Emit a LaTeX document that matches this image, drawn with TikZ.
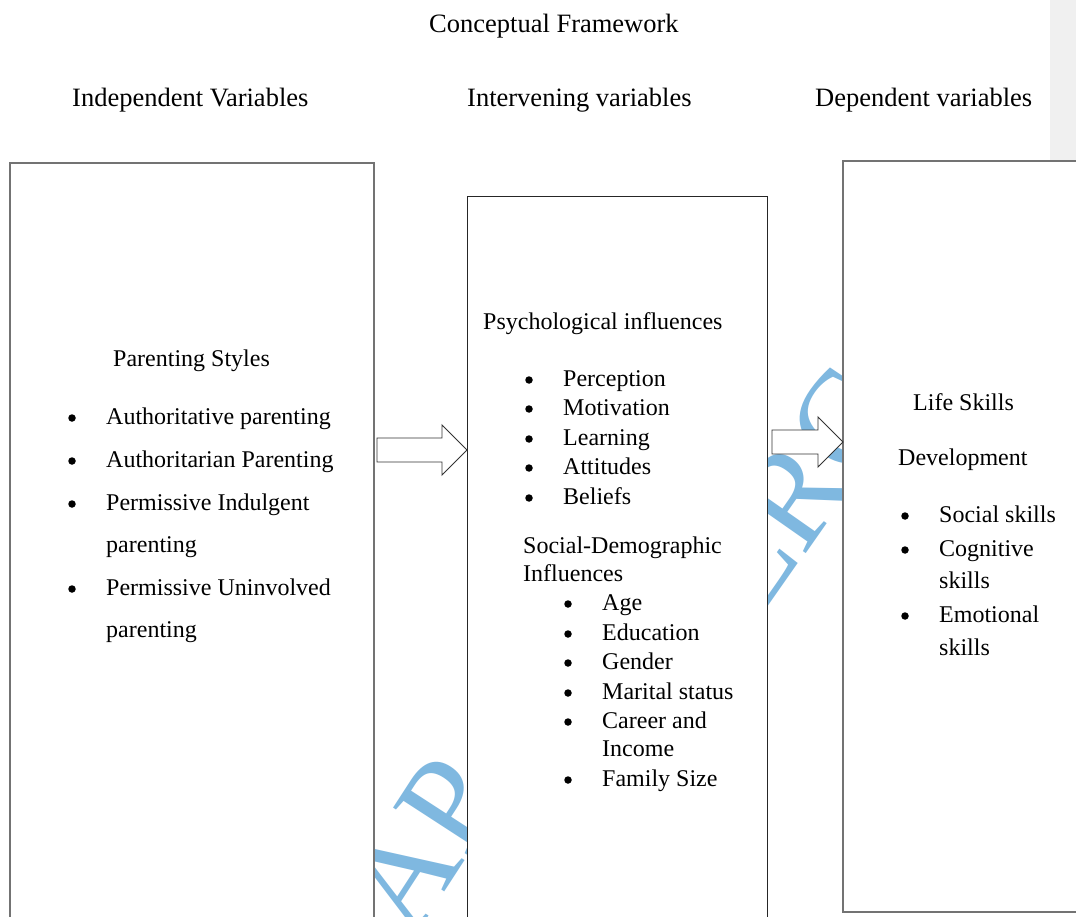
\documentclass[tikz,border=0pt]{standalone}
\usepackage{fontspec}
\setmainfont{Liberation Serif}
\definecolor{wm}{HTML}{7FB8E0}
\definecolor{strip}{HTML}{F0F0F0}
\tikzset{
  txt/.style={anchor=base west, inner sep=0pt, font=\fontsize{24}{29}\selectfont},
  head/.style={anchor=base west, inner sep=0pt, font=\fontsize{26.5}{31}\selectfont},
  dot/.style={circle, fill=black, inner sep=0pt, minimum size=7.5pt},
  wmark/.style={text=wm, inner sep=0pt, font=\fontsize{135}{135}\selectfont},
  boxA/.style={draw=black!55, line width=1.4pt, fill=white},
  boxB/.style={draw=black!85, line width=1pt, fill=white},
  blockarrow/.style={draw=black!80, line width=0.9pt, fill=white, line join=miter}
}
\begin{document}
\begin{tikzpicture}[x=1pt,y=-1pt]
\useasboundingbox (0,0) rectangle (1076,917);
\clip (0,0) rectangle (1076,917);
\fill[white] (0,0) rectangle (1076,917);
\fill[strip] (1050,0) rectangle (1076,161);
% watermark
\node[wmark, rotate=57] (wm1) at (422,845) {AP};
\node[wmark, rotate=55] (wm2) at (795,492) {ERC};
% boxes
\draw[boxA] (10,163) rectangle (374,930);
\draw[boxB] (467,197) rectangle (767,930);
\draw[boxA] (843,161) rectangle (1090,912);
% titles
\node[head] (title) at (429,33) {Conceptual Framework};
\node[head] (h1) at (72,107) {Independent Variables};
\node[head] (h2) at (467,107) {Intervening variables};
\node[head] (h3) at (815,107) {Dependent variables};
% left box
\node[txt] (ps) at (113,366) {Parenting Styles};
\foreach \n/\y/\t in {a1/424/Authoritative parenting, a2/467/Authoritarian Parenting, a3/510/Permissive Indulgent, a5/595/Permissive Uninvolved}{
  \node[dot] (b\n) at (72,\y-6) {};
  \node[txt] (\n) at (106,\y) {\t};
}
\node[txt] (a4) at (106,552) {parenting};
\node[txt] (a6) at (106,637) {parenting};
% middle box
\node[txt] (pi) at (483,329) {Psychological influences};
\foreach \n/\y/\t in {m1/386/Perception, m2/415/Motivation, m3/445/Learning, m4/474/Attitudes, m5/504/Beliefs}{
  \node[dot] (b\n) at (529,\y-6) {};
  \node[txt] (\n) at (563,\y) {\t};
}
\node[txt] (sd1) at (523,553) {Social-Demographic};
\node[txt] (sd2) at (523,581) {Influences};
\foreach \n/\y/\t in {s1/610/Age, s2/640/Education, s3/669/Gender, s4/699/Marital status, s5/728/Career and, s7/786/Family Size}{
  \node[dot] (b\n) at (568,\y-6) {};
  \node[txt] (\n) at (602,\y) {\t};
}
\node[txt] (s6) at (602,756) {Income};
% right box
\node[txt] (ls) at (913,410) {Life Skills};
\node[txt] (dev) at (898,465) {Development};
\foreach \n/\y/\t in {r1/522/Social skills, r2/556/Cognitive, r4/622/Emotional}{
  \node[dot] (b\n) at (905,\y-6) {};
  \node[txt] (\n) at (939,\y) {\t};
}
\node[txt] (r3) at (939,588) {skills};
\node[txt] (r5) at (939,655) {skills};
% block arrows
\draw[blockarrow] (377,438) -- (442,438) -- (442,425) -- (467,450) -- (442,475) -- (442,462) -- (377,462) -- cycle;
\draw[blockarrow] (772,430) -- (818,430) -- (818,417) -- (843,442) -- (818,467) -- (818,454) -- (772,454) -- cycle;
\end{tikzpicture}
\end{document}
